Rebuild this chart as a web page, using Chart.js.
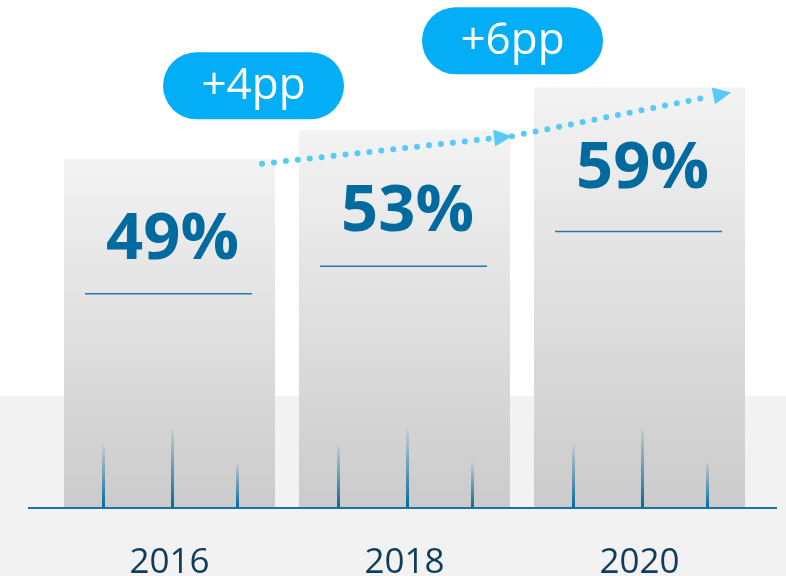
<!DOCTYPE html>
<html><head><meta charset="utf-8">
<script src="https://cdn.jsdelivr.net/npm/chart.js@4.4.0/dist/chart.umd.min.js"></script>
<style>html,body{margin:0;padding:0;background:#fff;overflow:hidden}canvas{display:block}</style>
</head><body>
<canvas id="c" width="786" height="576"></canvas>
<script>
// ---- data ----
const years = ['2016', '2018', '2020'];
const shares = [49, 53, 59];           // % values
const bandValue = 15.7;                 // grey floor band top, in axis units

// ---- styles ----
const VALUE_COLOR = '#016a9f';
const BASE_COLOR = '#1a72a7';
const DOT_COLOR = '#56cbf8';
const BUBBLE_COLOR = '#03aef7';
const YEAR_COLOR = '#0e3c5a';
const FONT = '"Open Sans", "Noto Sans", sans-serif';

const deco = {
  id: 'deco',
  beforeDraw(chart) {
    const c = chart.ctx, y = chart.scales.y;
    const top = y.getPixelForValue(bandValue);
    c.save();
    c.fillStyle = '#f2f2f2';
    c.fillRect(0, top, chart.width, chart.height - top);
    c.restore();
  },
  afterDatasetsDraw(chart) {
    const c = chart.ctx;
    const bars = chart.getDatasetMeta(0).data;
    const base = chart.scales.y.getPixelForValue(0);
    c.save();
    // spikes inside each bar
    const spikes = [[0.185, 63], [0.512, 79], [0.82, 45]];
    bars.forEach(b => {
      const left = b.x - b.width / 2;
      spikes.forEach(([f, h]) => {
        const x = Math.round(left + f * b.width) + 0.5;
        const g = c.createLinearGradient(0, base - h, 0, base);
        g.addColorStop(0, 'rgba(0,105,160,0.05)');
        g.addColorStop(0.6, 'rgba(0,105,160,0.6)');
        g.addColorStop(1, 'rgba(0,105,160,1)');
        c.strokeStyle = g; c.lineWidth = 3;
        c.beginPath(); c.moveTo(x, base - h); c.lineTo(x, base); c.stroke();
      });
    });
    // baseline
    c.strokeStyle = BASE_COLOR; c.lineWidth = 2;
    c.beginPath(); c.moveTo(28, base); c.lineTo(777, base); c.stroke();
    // value labels and underline
    const lineDy = [135, 136, 144];
    bars.forEach((b, i) => {
      const left = b.x - b.width / 2, right = b.x + b.width / 2;
      c.fillStyle = VALUE_COLOR;
      c.font = '700 65px ' + FONT;
      c.textAlign = 'center'; c.textBaseline = 'middle';
      c.fillText(shares[i] + '%', b.x + 3, b.y + 82);
      c.strokeStyle = '#2a78a8'; c.lineWidth = 1.5;
      c.beginPath(); c.moveTo(left + 21, b.y + lineDy[i]); c.lineTo(right - 23, b.y + lineDy[i]); c.stroke();
    });
    // dotted arrows
    const anchorDx = [-13, 2, -14], anchorDy = [5, 6, 5];
    const pts = bars.map((b, i) => [b.x + b.width / 2 + anchorDx[i], b.y + anchorDy[i]]);
    for (let i = 0; i < pts.length - 1; i++) {
      const [x0, y0] = pts[i], [x1, y1] = pts[i + 1];
      const ang = Math.atan2(y1 - y0, x1 - x0);
      const L = Math.hypot(x1 - x0, y1 - y0) - 20;
      c.strokeStyle = DOT_COLOR; c.lineWidth = 6; c.lineCap = 'round';
      c.setLineDash([0, 12]);
      c.beginPath(); c.moveTo(x0, y0);
      c.lineTo(x0 + Math.cos(ang) * L, y0 + Math.sin(ang) * L); c.stroke();
      c.setLineDash([]);
      c.fillStyle = DOT_COLOR;
      c.save(); c.translate(x1, y1); c.rotate(ang);
      c.beginPath(); c.moveTo(0, 0); c.lineTo(-18, -8.5); c.lineTo(-18, 8.5); c.closePath(); c.fill();
      c.restore();
    }
    // bubbles
    const bubbleOff = [[-21.5, -73], [2.5, -89.5]];
    for (let i = 0; i < bars.length - 1; i++) {
      const ref = bars[i];
      const cx = ref.x + ref.width / 2 + bubbleOff[i][0];
      const cy = ref.y + bubbleOff[i][1];
      const w = 181, h = 67, r = h / 2;
      c.fillStyle = BUBBLE_COLOR;
      c.beginPath();
      c.moveTo(cx - w / 2 + r, cy - r);
      c.lineTo(cx + w / 2 - r, cy - r);
      c.arc(cx + w / 2 - r, cy, r, -Math.PI / 2, Math.PI / 2);
      c.lineTo(cx - w / 2 + r, cy + r);
      c.arc(cx - w / 2 + r, cy, r, Math.PI / 2, Math.PI * 1.5);
      c.closePath(); c.fill();
      c.fillStyle = '#ffffff';
      c.font = '400 44px ' + FONT;
      c.textAlign = 'center'; c.textBaseline = 'middle';
      c.fillText('+' + (shares[i + 1] - shares[i]) + 'pp', cx, cy + 1);
    }
    c.restore();
  }
};

new Chart(document.getElementById('c'), {
  type: 'bar',
  data: {
    labels: years,
    datasets: [{
      data: shares,
      borderWidth: 0,
      barPercentage: 0.898,
      categoryPercentage: 1,
      backgroundColor: (ctx) => {
        const chart = ctx.chart;
        if (!chart.chartArea || ctx.type !== 'data') return '#dddddd';
        const ys = chart.scales.y;
        const top = ys.getPixelForValue(ctx.raw), bot = ys.getPixelForValue(0);
        const g = chart.ctx.createLinearGradient(0, top, 0, bot);
        g.addColorStop(0, '#f3f3f3');
        g.addColorStop(1, '#cbcbcb');
        return g;
      }
    }]
  },
  options: {
    responsive: false,
    animation: false,
    layout: { padding: { left: 52, right: 29, top: 9, bottom: 0 } },
    plugins: { legend: { display: false }, tooltip: { enabled: false } },
    scales: {
      y: { display: false, min: 0, max: 70 },
      x: {
        grid: { display: false, drawTicks: false },
        border: { display: false },
        afterFit: (s) => { s.height = 68; },
        ticks: { color: YEAR_COLOR, padding: 34, font: { family: FONT, size: 35, weight: '400' } }
      }
    }
  },
  plugins: [deco]
});
</script>
</body></html>
